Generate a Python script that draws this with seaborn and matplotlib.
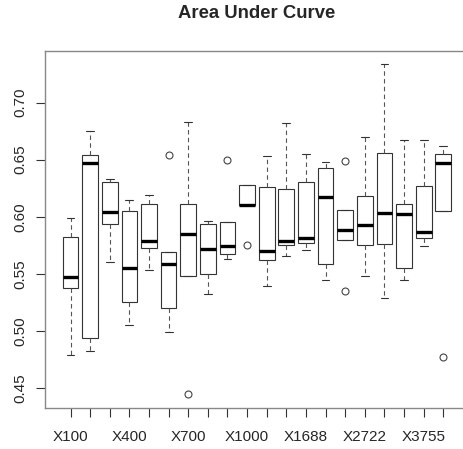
import pandas as pd
import matplotlib
matplotlib.use('Agg')
import matplotlib.pyplot as plt
import seaborn as sns

# five-number summaries (R-style boxplot)
groups = ['X100', 'X200', 'X300', 'X400', 'X500', 'X600', 'X700', 'X800', 'X900', 'X1000',
          'X1229', 'X1459', 'X1688', 'X2033', 'X2378', 'X2722', 'X3066', 'X3411', 'X3755', 'X4100']
whisker_low = [0.479, 0.482, 0.560, 0.505, 0.553, 0.499, 0.548, 0.532, 0.563, 0.610,
               0.539, 0.566, 0.571, 0.545, 0.580, 0.548, 0.529, 0.545, 0.574, 0.605]
q1 = [0.538, 0.494, 0.594, 0.525, 0.573, 0.520, 0.548, 0.550, 0.567, 0.610,
      0.562, 0.575, 0.577, 0.559, 0.580, 0.575, 0.576, 0.555, 0.581, 0.605]
median = [0.547, 0.647, 0.604, 0.555, 0.579, 0.559, 0.585, 0.572, 0.574, 0.610,
          0.570, 0.579, 0.581, 0.617, 0.588, 0.593, 0.603, 0.602, 0.587, 0.647]
q3 = [0.582, 0.654, 0.630, 0.605, 0.611, 0.569, 0.611, 0.594, 0.595, 0.628,
      0.626, 0.624, 0.630, 0.643, 0.606, 0.618, 0.656, 0.611, 0.627, 0.655]
whisker_high = [0.599, 0.675, 0.633, 0.615, 0.619, 0.569, 0.683, 0.596, 0.595, 0.628,
                0.653, 0.682, 0.655, 0.648, 0.606, 0.670, 0.734, 0.667, 0.667, 0.662]
outlier_group = ['X600', 'X700', 'X900', 'X1000', 'X2378', 'X2378', 'X4100']
outlier_value = [0.654, 0.445, 0.650, 0.575, 0.649, 0.535, 0.477]

# nine values per group whose quartiles and whisker ends are exactly the summary
rows = []
for i, g in enumerate(groups):
    vals = [whisker_low[i], whisker_low[i], q1[i], q1[i], median[i],
            q3[i], q3[i], whisker_high[i], whisker_high[i]]
    for og, ov in zip(outlier_group, outlier_value):
        if og == g:
            if ov < q1[i]:
                vals[0] = ov
            else:
                vals[-1] = ov
    rows += [(g, v) for v in vals]
df = pd.DataFrame(rows, columns=['group', 'auc'])

sns.set_style('white')
plt.rcParams['font.family'] = ['Liberation Sans', 'DejaVu Sans']

fig = plt.figure(figsize=(4.64, 4.49), dpi=100)
ax = fig.add_axes([45 / 464, 41 / 449, 423.8 / 464, 357.3 / 449])

sns.boxplot(data=df, x='group', y='auc', order=groups, color='white',
            linecolor='#333333', linewidth=0.8, width=0.8, whis=1.5, fliersize=5,
            capwidths=0.4,
            medianprops=dict(color='black', linewidth=2.4),
            whiskerprops=dict(linestyle=(0, (4, 3)), color='#555555'),
            flierprops=dict(marker='o', markerfacecolor='none', markeredgecolor='#444444',
                            markeredgewidth=0.8),
            ax=ax)

ax.set_xlim(-1.3, 20.3)
ax.set_ylim(0.4325, 0.7454)
ax.set_xticks(range(len(groups)))
ax.set_xticklabels([g if i % 3 == 0 else '' for i, g in enumerate(groups)], fontsize=11)
yt = [0.45, 0.50, 0.55, 0.60, 0.65, 0.70]
ax.set_yticks(yt)
ax.set_yticklabels([f'{v:.2f}' for v in yt], rotation=90, va='center', fontsize=11)
ax.tick_params(axis='both', direction='out', length=6.5, width=0.8, color='#333333',
               left=True, bottom=True)
ax.tick_params(axis='x', pad=9)
ax.tick_params(axis='y', pad=6)
ax.set_xlabel('')
ax.set_ylabel('')
for s in ax.spines.values():
    s.set_visible(True)
    s.set_color('#888888')
    s.set_linewidth(1.0)

fig.text(257 / 464, 1 - 14 / 449, 'Area Under Curve', ha='center', va='center',
         fontsize=13.3, fontweight='bold')

fig.savefig('out.png', dpi=100)
